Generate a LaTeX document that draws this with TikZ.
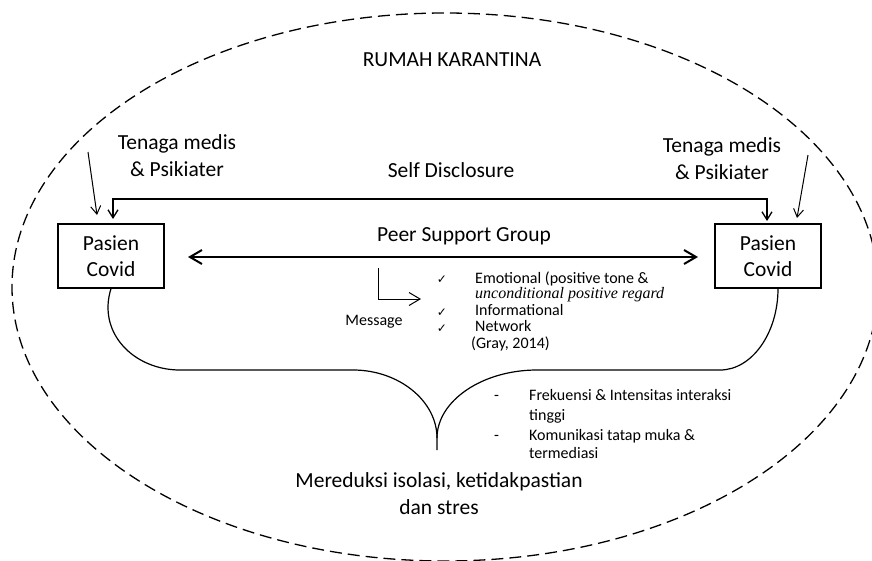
\documentclass[tikz,border=0pt]{standalone}
\usepackage{fontspec}
\setmainfont{Carlito}
\newfontfamily\serifit{Liberation Serif}
\newfontfamily\symf{DejaVu Sans}
\usetikzlibrary{arrows.meta}
\tikzset{
  big/.style={font=\fontsize{21.5}{27}\selectfont, inner sep=0pt, align=center},
  small/.style={font=\fontsize{16}{19}\selectfont, inner sep=0pt, anchor=mid west},
  chk/.style={font=\symf\fontsize{12}{14}\selectfont, inner sep=0pt},
  patbox/.style={draw, line width=1.2pt, minimum width=106pt, minimum height=64pt, inner sep=0pt, align=center, font=\fontsize{21.5}{26}\selectfont},
  thinarr/.style={line width=1pt, -{Straight Barb[length=8pt,width=10pt]}},
  sdarr/.style={line width=1.3pt, {Straight Barb[length=8pt,width=10pt]}-{Straight Barb[length=8pt,width=10pt]}},
  thickarr/.style={line width=2pt, {Straight Barb[length=12pt,width=14pt]}-{Straight Barb[length=12pt,width=14pt]}},
  msgarr/.style={line width=1pt, -{Straight Barb[length=11pt,width=13pt]}},
  brace/.style={line width=1.2pt},
  boundary/.style={line width=1.3pt, dash pattern=on 12pt off 6pt}
}
\begin{document}
\begin{tikzpicture}[x=1pt,y=-1pt]
\useasboundingbox (0,0) rectangle (872,560);
\fill[white] (0,0) rectangle (872,560);
\begin{scope}
\clip (0,0) rectangle (872,560);
\draw[boundary] (445,287) ellipse [x radius=433, y radius=274];
\end{scope}

\node[big] (title) at (452,60) {RUMAH KARANTINA};

\node[patbox] (boxL) at (111,256) {Pasien\\Covid};
\node[patbox] (boxR) at (768,256) {Pasien\\Covid};

\node[big] (tmL) at (177,156) {Tenaga medis\\\& Psikiater};
\node[big] (tmR) at (722,159) {Tenaga medis\\\& Psikiater};
\node[big] (sd) at (451,170) {Self Disclosure};
\node[big] (psg) at (464,236) {Peer Support Group};

% medical staff arrows
\coordinate (tmLs) at (88,152);
\coordinate (tmLe) at (97,215);
\coordinate (tmRs) at (808,155);
\coordinate (tmRe) at (797,218);
\draw[thinarr] (tmLs) -- (tmLe);
\draw[thinarr] (tmRs) -- (tmRe);

% self disclosure
\coordinate (sdL) at (113,219);
\coordinate (sdR) at (767,221);
\draw[sdarr] (sdL) |- (440,199) -| (sdR);

% peer support group arrow
\coordinate (pgL) at (188,257);
\coordinate (pgR) at (698,257);
\draw[thickarr] (pgL) -- (pgR);

% message
\coordinate (m0) at (378,268);
\coordinate (m1) at (421,299);
\draw[msgarr] (m0) |- (m1);
\node[small, anchor=mid] (msg) at (374,323) {Message};

\node[chk] (c1) at (442,280) {✓};
\node[chk] (c2) at (442,313) {✓};
\node[chk] (c3) at (442,329) {✓};
\node[small] (e1) at (475,281) {Emotional (positive tone \&};
\node[small, font=\serifit\itshape\fontsize{16}{19}\selectfont] (e2) at (475,296) {unconditional positive regard};
\node[small] (e3) at (475,313) {Informational};
\node[small] (e4) at (475,329) {Network};
\node[small] (e5) at (471,346) {(Gray, 2014)};

% brace
\coordinate (cusp) at (437,450);
\draw[brace] (boxL.south) .. controls (97,333) and (134,370) .. (180,370) -- (353,370)
  .. controls (399,370) and (437,401) .. (437,438) -- (cusp);
\draw[brace] (boxR.south -| 778,0) .. controls (778,333) and (752,370) .. (720,370) -- (537,370)
  .. controls (482,370) and (437,401) .. (437,438);

\node[small] (d1) at (494,398) {-};
\node[small] (f1) at (529,398) {Frekuensi \& Intensitas interaksi};
\node[small] (f2) at (529,418) {tinggi};
\node[small] (d2) at (494,438) {-};
\node[small] (k1) at (529,438) {Komunikasi tatap muka \&};
\node[small] (k2) at (529,456) {termediasi};

\node[big] (res) at (439,494) {Mereduksi isolasi, ketidakpastian\\dan stres};
\end{tikzpicture}
\end{document}
